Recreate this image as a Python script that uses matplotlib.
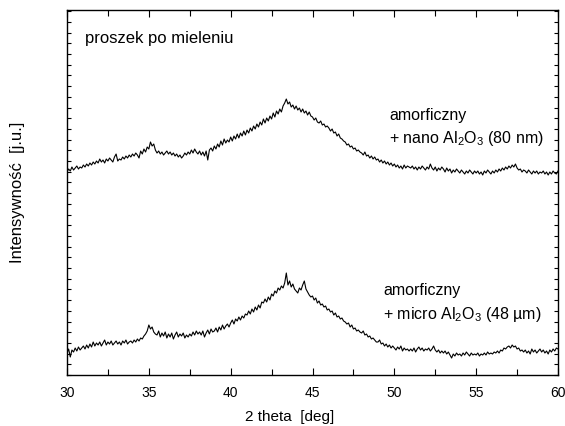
import numpy as np
import matplotlib
matplotlib.use('Agg')
import matplotlib.pyplot as plt
from matplotlib.ticker import MultipleLocator, NullFormatter

plt.rcParams['font.family'] = ['Liberation Sans', 'DejaVu Sans']
plt.rcParams['mathtext.default'] = 'regular'

# 2 theta grid (deg), step 0.1
two_theta = np.round(np.arange(300, 601) * 0.1, 1)

# upper pattern: amorphous + nano Al2O3 (80 nm), arbitrary units
nano = [
    203, 206, 204, 208, 205, 207, 209, 206, 208, 207,
    210, 208, 211, 209, 212, 210, 213, 211, 214, 212,
    216, 213, 215, 212, 216, 214, 217, 215, 213, 218,
    221, 214, 216, 215, 218, 216, 219, 217, 220, 218,
    221, 219, 222, 220, 217, 224, 221, 226, 223, 228,
    226, 233, 229, 231, 225, 222, 224, 221, 223, 220,
    222, 224, 221, 223, 220, 222, 219, 221, 218, 220,
    217, 219, 222, 220, 223, 221, 225, 222, 226, 223,
    221, 224, 220, 223, 219, 224, 215, 225, 227, 224,
    229, 226, 231, 228, 234, 230, 236, 232, 235, 233,
    238, 234, 239, 236, 241, 237, 242, 239, 244, 240,
    245, 242, 247, 244, 249, 246, 251, 248, 253, 250,
    256, 252, 257, 254, 259, 256, 262, 258, 264, 261,
    266, 263, 269, 272, 276, 271, 273, 268, 270, 266,
    269, 265, 267, 263, 266, 262, 264, 260, 263, 259,
    258, 255, 257, 253, 252, 254, 250, 251, 248, 249,
    247, 244, 246, 242, 243, 239, 241, 237, 236, 234,
    233, 230, 231, 228, 229, 226, 227, 224, 225, 223,
    222, 220, 223, 219, 220, 217, 219, 216, 218, 215,
    216, 213, 215, 212, 214, 211, 213, 210, 212, 209,
    211, 208, 210, 207, 209, 206, 210, 207, 209, 208,
    207, 209, 206, 208, 205, 208, 206, 209, 207, 205,
    208, 206, 211, 207, 205, 208, 204, 207, 205, 208,
    206, 203, 207, 204, 206, 202, 205, 203, 206, 204,
    202, 205, 203, 201, 204, 202, 205, 203, 201, 204,
    202, 204, 201, 203, 200, 204, 202, 205, 203, 201,
    204, 202, 205, 203, 206, 204, 207, 205, 208, 206,
    209, 207, 210, 208, 211, 207, 205, 206, 203, 205,
    204, 202, 205, 203, 201, 204, 202, 204, 201, 203,
    202, 204, 201, 203, 200, 203, 201, 204, 202, 201,
    204,
]

# lower pattern: amorphous + micro Al2O3 (48 um)
micro = [
    22, 26, 18, 25, 23, 27, 24, 28, 25, 27,
    29, 26, 30, 27, 31, 28, 33, 29, 32, 30,
    33, 29, 32, 35, 30, 33, 31, 34, 30, 32,
    34, 31, 33, 30, 34, 32, 35, 31, 33, 34,
    32, 35, 33, 36, 34, 37, 36, 39, 41, 44,
    50, 46, 48, 43, 41, 40, 44, 38, 42, 39,
    43, 37, 41, 38, 42, 36, 40, 43, 38, 41,
    39, 42, 37, 40, 38, 41, 39, 43, 40, 44,
    41, 43, 40, 44, 38, 42, 45, 41, 46, 43,
    44, 47, 43, 48, 45, 50, 46, 49, 51, 48,
    52, 55, 51, 56, 54, 58, 55, 59, 57, 61,
    60, 64, 61, 66, 63, 68, 65, 70, 67, 73,
    72, 76, 73, 78, 75, 81, 79, 84, 82, 87,
    85, 89, 87, 92, 102, 90, 94, 88, 91, 86,
    84, 82, 87, 85, 90, 94, 86, 83, 80, 78,
    79, 75, 77, 72, 74, 70, 71, 68, 69, 65,
    66, 63, 64, 60, 62, 58, 59, 56, 57, 54,
    53, 51, 52, 48, 50, 46, 47, 44, 45, 43,
    42, 44, 40, 41, 38, 39, 36, 37, 35, 33,
    33, 35, 31, 32, 29, 31, 28, 30, 27, 29,
    27, 25, 28, 26, 29, 24, 27, 25, 26, 24,
    26, 24, 27, 23, 26, 28, 25, 27, 24, 26,
    25, 27, 24, 26, 29, 25, 23, 25, 22, 24,
    22, 24, 21, 23, 20, 17, 21, 19, 22, 20,
    21, 19, 22, 20, 23, 21, 19, 22, 20, 21,
    20, 22, 19, 21, 20, 22, 20, 23, 21, 22,
    21, 23, 22, 24, 22, 25, 24, 27, 26, 28,
    29, 27, 30, 28, 29, 26, 27, 24, 25, 23,
    25, 22, 24, 21, 26, 23, 25, 22, 24, 26,
    23, 25, 22, 24, 21, 25, 23, 26, 24, 27,
    26,
]

fig = plt.figure(figsize=(5.65, 4.26), dpi=100)
ax = fig.add_axes([0.1186, 0.1197, 0.8690, 0.8568])

ax.plot(two_theta, nano, color='black', lw=0.8)
ax.plot(two_theta, micro, color='black', lw=0.8)

ax.set_xlim(30, 60)
ax.set_ylim(0, 365)

# ticks inward on all four sides, y without labels
ax.xaxis.set_major_locator(MultipleLocator(5))
ax.xaxis.set_minor_locator(MultipleLocator(2.5))
ax.yaxis.set_major_locator(MultipleLocator(10.7))
ax.yaxis.set_major_formatter(NullFormatter())
ax.tick_params(axis='both', which='both', direction='in',
               top=True, right=True, width=0.8, labelsize=10, colors='black')
ax.tick_params(axis='x', which='major', length=5, pad=8)
ax.tick_params(axis='x', which='minor', length=4)
ax.tick_params(axis='y', which='major', length=3)
for sp in ax.spines.values():
    sp.set_linewidth(1.0)

ax.set_xlabel('2 theta  [deg]', fontsize=11)
ax.xaxis.set_label_coords(0.454, -0.097)
ax.set_ylabel('Intensywność  [j.u.]', fontsize=12)
ax.yaxis.set_label_coords(-0.085, 0.5)

ax.text(31.1, 337, 'proszek po mieleniu', fontsize=12, va='center')
ax.text(49.7, 260, 'amorficzny', fontsize=11.5, va='center')
ax.text(49.7, 237, '+ nano Al$_2$O$_3$ (80 nm)', fontsize=11.5, va='center')
ax.text(49.3, 85, 'amorficzny', fontsize=11.5, va='center')
ax.text(49.3, 61, '+ micro Al$_2$O$_3$ (48 µm)', fontsize=11.5, va='center')

fig.savefig('out.png', dpi=100)
